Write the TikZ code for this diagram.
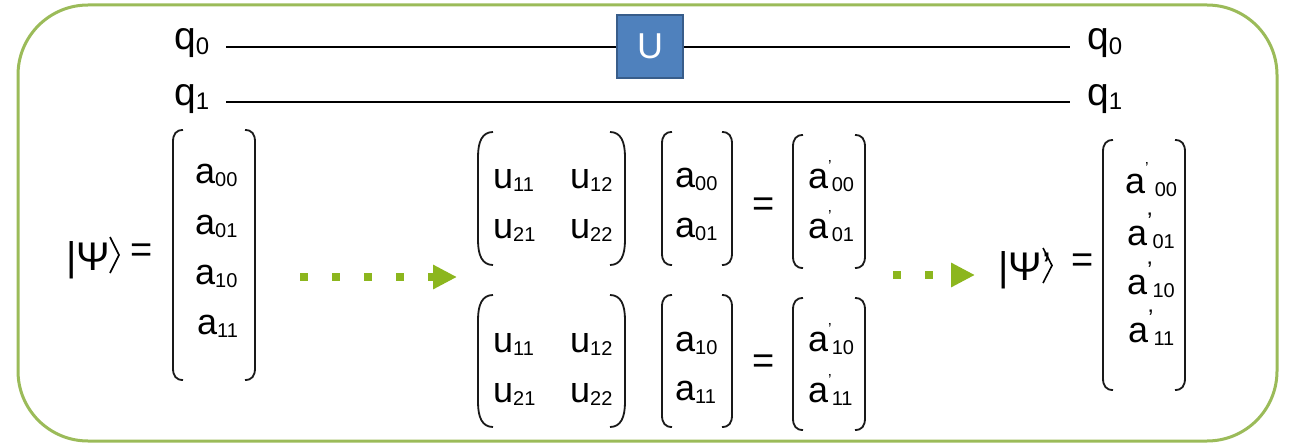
\documentclass[tikz,border=0pt]{standalone}
\usepackage{fontspec}
\setmainfont{Liberation Sans}
\usetikzlibrary{arrows.meta}
\definecolor{framegreen}{RGB}{155,187,89}
\definecolor{arrowgreen}{RGB}{140,182,30}
\definecolor{ublue}{RGB}{79,129,189}
\definecolor{uborder}{RGB}{56,93,138}
\newcommand\sbs[1]{\raisebox{-0.1em}{\fontsize{20}{20}\selectfont #1}}
\newcommand\qsbs[1]{\raisebox{-0.12em}{\fontsize{24}{24}\selectfont #1}}
\newcommand\aprc[1]{a\raisebox{0.45em}{\fontsize{16}{16}\selectfont ’}\sbs{#1}}
\newcommand\aprs[1]{a\raisebox{0.42em}{\fontsize{24}{24}\selectfont '}\sbs{#1}}
\newcommand\brk[4]{%
  \draw[brkline] ({#1+10},#3) .. controls ({#1+3},#3) and (#1,{#3+4}) .. (#1,{#3+12}) -- (#1,{#4-12}) .. controls (#1,{#4-4}) and ({#1+3},#4) .. ({#1+10},#4);
  \draw[brkline] ({#2-10},#3) .. controls ({#2-3},#3) and (#2,{#3+4}) .. (#2,{#3+12}) -- (#2,{#4-12}) .. controls (#2,{#4-4}) and ({#2-3},#4) .. ({#2-10},#4);}
\newcommand\prn[4]{%
  \draw[brkline] ({#1+15},#3) .. controls ({#1+4},#3) and (#1,{#3+10}) .. (#1,{#3+25}) -- (#1,{#4-25}) .. controls (#1,{#4-10}) and ({#1+4},#4) .. ({#1+15},#4);
  \draw[brkline] ({#2-15},#3) .. controls ({#2-4},#3) and (#2,{#3+10}) .. (#2,{#3+25}) -- (#2,{#4-25}) .. controls (#2,{#4-10}) and ({#2-4},#4) .. ({#2-15},#4);}
\tikzset{
  txt/.style={inner sep=0pt, anchor=base west, font=\fontsize{36}{40}\selectfont},
  qtxt/.style={inner sep=0pt, anchor=base west, font=\fontsize{39}{44}\selectfont},
  big/.style={inner sep=0pt, anchor=base west, font=\fontsize{40}{44}\selectfont},
  eqs/.style={inner sep=0pt, anchor=center, font=\fontsize{38}{40}\selectfont},
  wire/.style={line width=1.5pt, black},
  brkline/.style={line width=1.8pt, black!90},
  angline/.style={line width=1.6pt, black, line join=miter},
  dotarrow/.style={arrowgreen, line width=8pt, dash pattern=on 8pt off 24pt,
    -{Triangle[length=24pt,width=23pt]}},
  ugate/.style={fill=ublue, draw=uborder, line width=2pt, minimum width=66pt,
    minimum height=63pt, inner sep=0pt, text=white, font=\fontsize{36}{40}\selectfont}
}
\begin{document}
\begin{tikzpicture}[x=1pt,y=-1pt]
\useasboundingbox (0,0) rectangle (1291,444);
\draw[framegreen, line width=3pt, rounded corners=70pt] (18,5) rectangle (1277,441);
% circuit
\node[qtxt] (q0l) at (174,50) {q\qsbs{0}};
\node[qtxt] (q1l) at (174,105) {q\qsbs{1}};
\node[qtxt] (q0r) at (1087,50) {q\qsbs{0}};
\node[qtxt] (q1r) at (1087,105) {q\qsbs{1}};
\coordinate (w0s) at (226,47);
\coordinate (w0e) at (1070,47);
\coordinate (w1s) at (226,102);
\coordinate (w1e) at (1070,102);
\draw[wire] (w0s) -- (w0e);
\draw[wire] (w1s) -- (w1e);
\node[ugate] (U) at (650,46.5) {U};
% left state
\node[big] (psi) at (66,270) {|Ψ};
\draw[angline] (110,237) -- (119,255) -- (110,273);
\node[eqs] (eq1) at (142,253) {=};
\brk{173}{255}{130}{380}
\node[txt] (a00) at (195,183) {a\sbs{00}};
\node[txt] (a01) at (195,234) {a\sbs{01}};
\node[txt] (a10) at (195,284) {a\sbs{10}};
\node[txt] (a11) at (197,334) {a\sbs{11}};
% arrow 1
\coordinate (ar1s) at (300,277);
\coordinate (ar1e) at (457,277);
\draw[dotarrow] (ar1s) -- (ar1e);
% top product
\prn{478}{625}{132}{265}
\node[txt] (tu11) at (493,188) {u\sbs{11}};
\node[txt] (tu12) at (570,188) {u\sbs{12}};
\node[txt] (tu21) at (493,238) {u\sbs{21}};
\node[txt] (tu22) at (570,238) {u\sbs{22}};
\brk{662}{732}{132}{265}
\node[txt] (ta00) at (675,187) {a\sbs{00}};
\node[txt] (ta01) at (675,237) {a\sbs{01}};
\node[eqs] (eq2) at (764,207) {=};
\brk{793}{865}{135}{268}
\node[txt] (tr00) at (808,188) {\aprc{00}};
\node[txt] (tr01) at (808,238) {\aprc{01}};
% bottom product
\prn{478}{625}{295}{427}
\node[txt] (bu11) at (493,352) {u\sbs{11}};
\node[txt] (bu12) at (570,352) {u\sbs{12}};
\node[txt] (bu21) at (493,402) {u\sbs{21}};
\node[txt] (bu22) at (570,402) {u\sbs{22}};
\brk{662}{732}{295}{427}
\node[txt] (ba10) at (675,351) {a\sbs{10}};
\node[txt] (ba11) at (675,400) {a\sbs{11}};
\node[eqs] (eq3) at (764,364) {=};
\brk{793}{865}{298}{430}
\node[txt] (br10) at (808,351) {\aprc{10}};
\node[txt] (br11) at (808,402) {\aprc{11}};
% arrow 2
\coordinate (ar2s) at (893,275);
\coordinate (ar2e) at (975,275);
\draw[dotarrow] (ar2s) -- (ar2e);
% right state
\node[big] (psip) at (998,280) {|Ψ’};
\draw[angline] (1043,248) -- (1052,265.5) -- (1043,283);
\node[eqs] (eq4) at (1083,263) {=};
\brk{1103}{1185}{140}{390}
\node[txt] (r00) at (1125,193) {a\raisebox{0.55em}{\fontsize{16}{16}\selectfont ’}\,\sbs{00}};
\node[txt] (r01) at (1127,245) {\aprs{01}};
\node[txt] (r10) at (1127,294) {\aprs{10}};
\node[txt] (r11) at (1128,342) {\aprs{11}};
\end{tikzpicture}
\end{document}
